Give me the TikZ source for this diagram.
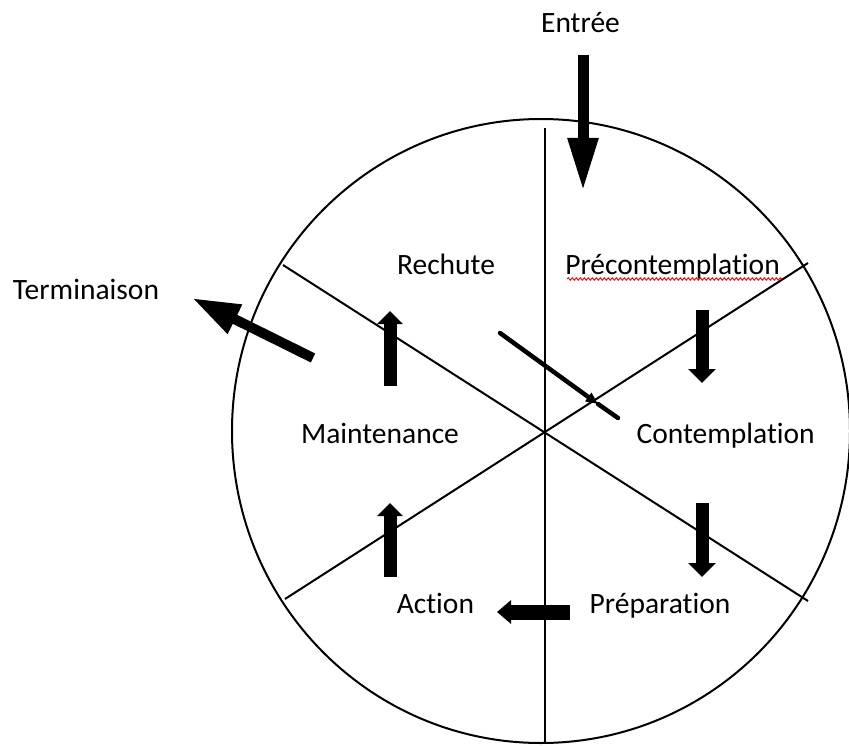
\documentclass[tikz,border=0pt]{standalone}
\usepackage{fontspec}
\setmainfont[Ligatures=NoCommon]{Carlito}
\usetikzlibrary{arrows.meta,shapes,positioning}
\usetikzlibrary{decorations.pathmorphing}

\begin{document}
\begin{tikzpicture}[x=1pt,y=-1pt,
  stage/.style={anchor=base, inner sep=0pt, font=\fontsize{29.5}{35}\selectfont},
  fleche/.style={line width=13pt, -{Triangle[length=14pt,width=27pt]}}]

\useasboundingbox (0,0) rectangle (849,746);

% cercle et secteurs
\draw[line width=2pt] (541,431) ellipse [x radius=309, y radius=312];
\draw[line width=2.2pt] (545,128) -- (545,743);
\draw[line width=2pt] (283,265) -- (808,601);
\draw[line width=2pt] (285,599) -- (808,263);

% etapes
\node[stage] (Entree) at (580.5,33) {Entrée};
\node[stage] (Terminaison) at (86,299) {Terminaison};
\node[stage] (Rechute) at (446,274) {Rechute};
\node[stage] (Precont) at (672.5,274) {Précontemplation};
\node[stage] (Maint) at (380,443.5) {Maintenance};
\node[stage] (Cont) at (725.7,443.5) {Contemplation};
\node[stage] (Action) at (435.4,613) {Action};
\node[stage] (Prep) at (660,613) {Préparation};

% soulignement du correcteur
\draw[red, line width=0.9pt, decorate, decoration={snake, amplitude=1.2pt, segment length=4pt}] (567,279) -- (782,279);

% bouts des fleches
\coordinate (E1) at (583,55);
\coordinate (E2) at (583,192);
\coordinate (T1) at (313,358);
\coordinate (T2) at (192,298);
\coordinate (PC1) at (702,310);
\coordinate (PC2) at (702,383);
\coordinate (CP1) at (702,503);
\coordinate (CP2) at (702,577);
\coordinate (PA1) at (570,612);
\coordinate (PA2) at (497,612);
\coordinate (AM1) at (390,577);
\coordinate (AM2) at (390,503);
\coordinate (MR1) at (390,386);
\coordinate (MR2) at (390,311);
\coordinate (RC1) at (500,333);
\coordinate (RC2) at (598,404);
\coordinate (RC3) at (618,418);

\draw[line width=11pt, -{Triangle[length=54pt,width=28pt]}] (E1) -- (E2);
\draw[line width=10pt, -{Triangle[length=48pt,width=30pt]}] (T1) -- (T2);
\draw[fleche] (PC1) -- (PC2);
\draw[fleche] (CP1) -- (CP2);
\draw[line width=15pt, -{Triangle[length=14pt,width=23pt]}] (PA1) -- (PA2);
\draw[fleche, -{Triangle[length=13pt,width=25pt]}] (AM1) -- (AM2);
\draw[fleche, -{Triangle[length=13pt,width=25pt]}] (MR1) -- (MR2);
\draw[line width=4.5pt, line cap=round, -{Triangle[length=12pt,width=10pt]}] (RC1) -- (RC2);
\draw[line width=4.5pt, line cap=round] (RC2) -- (RC3);

\end{tikzpicture}
\end{document}
